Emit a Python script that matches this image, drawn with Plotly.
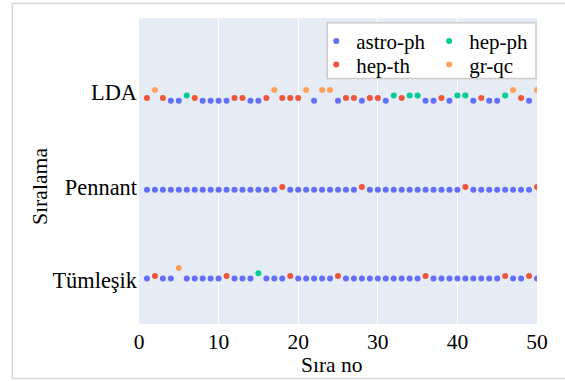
import plotly.graph_objects as go

# Category of the document at each rank (1..50) for each ranking method
# A = astro-ph, T = hep-th, P = hep-ph, G = gr-qc
categories = ["astro-ph", "hep-th", "hep-ph", "gr-qc"]
codes = {"A": "astro-ph", "T": "hep-th", "P": "hep-ph", "G": "gr-qc"}
rows = ["Tümleşik", "Pennant", "LDA"]
ranks = list(range(1, 51))

lda = list("TGTAAPTAAAATTAATGTTTGAGGATTATTAPTPPAATAPPATAAPGTAG")
pennant = list("AAAAAAAAAAAAAAAAATAAAAAAAAATAAAAAAAAAAAATAAAAAAAAT")
tumlesik = list("ATAAGAAAAATAAAPAAATAAAAATAAAAAAAAAATAAAAAAAAATAATA")

row_codes = {"LDA": lda, "Pennant": pennant, "Tümleşik": tumlesik}

colors = {"astro-ph": "#636efa", "hep-th": "#EF553B", "hep-ph": "#00cc96", "gr-qc": "#FFA15A"}
# small vertical shift per category so overlapping classes stay readable
shift = {"astro-ph": 0.0, "hep-th": 0.03, "hep-ph": 0.06, "gr-qc": 0.12}
# one legend per entry, laid out as a 2x2 grid inside a common box
legend_slot = {"astro-ph": ("legend", 0.4454, 0.9233),
               "hep-th": ("legend2", 0.4454, 0.8467),
               "hep-ph": ("legend3", 0.729, 0.9233),
               "gr-qc": ("legend4", 0.729, 0.8467)}
# vertical placement of the row labels
label_pos = [-0.02, 1.03, 2.1]

FONT = "Liberation Serif, Times New Roman, serif"

fig = go.Figure()
for cat in ["astro-ph", "hep-ph", "hep-th", "gr-qc"]:
    xs, ys = [], []
    for ri, row in enumerate(rows):
        for r, c in zip(ranks, row_codes[row]):
            if codes[c] == cat:
                xs.append(r)
                ys.append(ri + shift[cat])
    fig.add_trace(go.Scatter(
        x=xs, y=ys, mode="markers", name=cat,
        marker=dict(color=colors[cat], size=6),
        legend=legend_slot[cat][0],
    ))

legends = {}
for cat, (lname, lx, ly) in legend_slot.items():
    legends[lname] = dict(x=lx, y=ly, xanchor="left", yanchor="middle",
                          bgcolor="rgba(0,0,0,0)", borderwidth=0,
                          font=dict(family=FONT, size=21, color="black"))

fig.update_layout(
    width=565, height=381,
    margin=dict(l=138.5, r=28, t=18, b=56.5),
    paper_bgcolor="white",
    plot_bgcolor="#E5ECF6",
    font=dict(family=FONT, size=21, color="black"),
    showlegend=True,
    **legends,
    xaxis=dict(range=[0, 50], tickvals=[0, 10, 20, 30, 40, 50],
               showgrid=True, gridcolor="white", gridwidth=1, zeroline=False,
               tickfont=dict(size=21.5), ticks="", ticklabelstandoff=2,
               automargin=False),
    yaxis=dict(range=[-0.511, 2.931], tickvals=label_pos, ticktext=rows,
               showgrid=False, zeroline=False,
               tickfont=dict(size=22.4), ticks="", ticklabelstandoff=1,
               automargin=False),
    annotations=[
        dict(text="Sıra no", xref="paper", yref="paper", x=0.4848, y=-0.1328,
             xanchor="center", yanchor="middle", showarrow=False,
             font=dict(family=FONT, size=21.5, color="black")),
        dict(text="Sıralama", xref="paper", yref="paper", x=-0.247, y=0.45,
             xanchor="center", yanchor="middle", textangle=-90, showarrow=False,
             font=dict(family=FONT, size=21.7, color="black")),
    ],
    shapes=[
        # legend box
        dict(type="rect", xref="paper", yref="paper",
             x0=(327 - 138.5) / 398.5, x1=(536 - 138.5) / 398.5,
             y0=(324.5 - 78.7) / 306.5, y1=(324.5 - 22.7) / 306.5,
             fillcolor="white", line=dict(color="#cccccc", width=1.5), layer="above"),
        # outer frame
        dict(type="rect", xref="paper", yref="paper",
             x0=(11.7 - 138.5) / 398.5, x1=(572 - 138.5) / 398.5,
             y0=(324.5 - 379) / 306.5, y1=(324.5 - 3.5) / 306.5,
             fillcolor="rgba(0,0,0,0)", line=dict(color="#d6d6d6", width=1.5), layer="below"),
    ],
)

fig.write_html("out.html")
